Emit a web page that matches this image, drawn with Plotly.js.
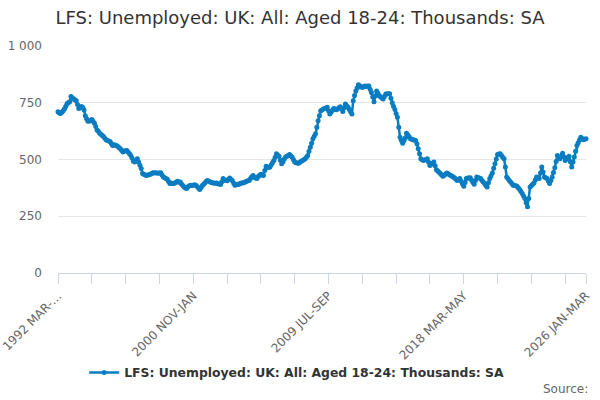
<!DOCTYPE html>
<html>
<head>
<meta charset="utf-8">
<script src="https://cdn.plot.ly/plotly-3.0.1.min.js"></script>
<style>html,body{margin:0;padding:0;background:#fff}#chart{width:600px;height:400px}</style>
</head>
<body>
<div id="chart"></div>
<script>
// Series: LFS: Unemployed: UK: All: Aged 18-24: Thousands: SA (rolling 3-month), 1992 MAR-MAY .. 2026 JAN-MAR
var startYear = 1992;
var startMonth = 2; // MAR (0-based)
var monthNames = ['JAN','FEB','MAR','APR','MAY','JUN','JUL','AUG','SEP','OCT','NOV','DEC'];

var values = [
710,705,703,708,715,724,735,747,750,754,
778,772,766,763,759,742,725,728,733,730,
718,693,680,668,670,671,676,668,660,645,
630,624,616,611,606,601,594,587,584,581,
579,570,562,565,563,562,557,552,547,540,
533,537,539,540,532,525,518,505,492,489,
495,503,489,475,460,438,435,432,430,432,
433,435,438,442,440,442,441,439,441,442,
432,423,420,416,413,403,394,396,393,394,
398,401,404,400,401,392,385,379,375,372,
380,384,387,385,387,389,387,381,374,368,
377,385,391,398,404,408,404,401,399,397,
397,395,397,393,392,390,402,416,410,408,
406,413,419,412,408,396,387,389,391,390,
394,397,396,399,401,404,406,408,416,424,
430,422,418,416,425,431,435,432,430,452,
470,467,465,467,477,487,496,510,525,519,
514,497,481,490,502,511,514,518,522,516,
511,500,489,486,485,484,488,492,496,499,
503,510,518,536,554,572,591,602,613,642,
671,693,715,718,722,725,727,730,715,700,
708,717,725,722,719,723,728,732,722,712,
728,744,737,730,720,710,700,759,782,802,
815,829,825,821,817,820,824,822,824,824,
810,795,775,754,780,802,792,781,776,771,
766,777,788,789,790,790,770,750,735,720,
703,686,642,598,585,572,583,595,616,608,
600,591,589,587,586,584,569,547,525,503,
499,496,498,500,503,488,474,479,484,489,
472,455,449,444,438,432,426,431,436,441,
437,433,430,426,423,418,413,408,412,416,
404,393,382,399,416,418,419,420,410,400,
391,407,423,420,418,416,408,401,394,386,
379,398,416,428,441,461,481,502,522,524,
525,518,510,503,467,423,416,408,401,394,
387,385,384,382,375,368,359,350,339,328,
310,292,328,379,385,391,397,410,423,420,
416,441,467,445,423,420,416,405,394,408,
423,443,464,491,518,510,503,515,528,512,
496,502,508,514,490,467,489,511,536,562,
574,586,598,592,587,589,591
];

// Category labels (rolling quarter names)
var categories = [];
for (var i = 0; i < values.length; i++) {
  var m = startMonth + i;
  var y = startYear + Math.floor(m / 12);
  var a = m % 12;
  categories.push(y + ' ' + monthNames[a] + '-' + monthNames[(a + 2) % 12]);
}

var labelledIdx = [0, 104, 208, 312, values.length - 1];
var tickStep = 26;
var tickVals = [], tickText = [];
for (var k = 0; k < values.length; k += tickStep) {
  tickVals.push(categories[k]);
  tickText.push(labelledIdx.indexOf(k) >= 0 ? (k === 0 ? '1992 MAR-…' : categories[k]) : '');
}
tickVals.push(categories[values.length - 1]);
tickText.push(categories[values.length - 1]);

var yTickVals = [0, 250, 500, 750, 1000];
var yTickText = ['0', '250', '500', '750', '1 000'];
var seriesName = 'LFS: Unemployed: UK: All: Aged 18-24: Thousands: SA';
var blue = '#0a7cc1';

var trace = {
  x: categories,
  y: values,
  type: 'scatter',
  mode: 'lines+markers',
  name: seriesName,
  line: {color: blue, width: 2.5},
  marker: {color: blue, size: 5},
  cliponaxis: false,
  hoverinfo: 'skip'
};

var layout = {
  width: 600, height: 400,
  margin: {l: 58, r: 14, t: 46, b: 127},
  paper_bgcolor: '#fff', plot_bgcolor: '#fff',
  font: {family: 'DejaVu Sans, Verdana, sans-serif', color: '#666'},
  title: {text: 'LFS: Unemployed: UK: All: Aged 18-24: Thousands: SA',
          x: 0.5, xanchor: 'center', y: 0.955, yanchor: 'middle',
          font: {size: 18, color: '#333', family: 'DejaVu Sans, Verdana, sans-serif'}},
  xaxis: {
    type: 'category',
    range: [0, values.length - 1],
    tickmode: 'array', tickvals: tickVals, ticktext: tickText,
    tickangle: -45,
    ticks: 'outside', ticklen: 10, tickcolor: '#ccd6eb', tickwidth: 1,
    showline: true, linecolor: '#ccd6eb', linewidth: 1,
    showgrid: false, zeroline: false,
    tickfont: {size: 12, color: '#666'},
    fixedrange: true
  },
  yaxis: {
    range: [0, 1000],
    tickmode: 'array', tickvals: yTickVals, ticktext: yTickText,
    showgrid: true, gridcolor: '#e6e6e6', gridwidth: 1,
    zeroline: false, showline: false, ticks: '',
    ticklabelstandoff: 15,
    tickfont: {size: 12, color: '#666'},
    fixedrange: true
  },
  showlegend: true,
  legend: {orientation: 'h', x: 0.452, xanchor: 'center', y: -0.44, yanchor: 'middle',
           font: {size: 12.4, color: '#333', weight: 'bold', family: 'DejaVu Sans, Verdana, sans-serif'},
           bgcolor: 'rgba(0,0,0,0)'},
  annotations: [{text: 'Source:', xref: 'paper', yref: 'paper', x: 1.007, y: -0.513,
                 xanchor: 'right', yanchor: 'middle', showarrow: false,
                 font: {size: 12, color: '#666'}}]
};

Plotly.newPlot('chart', [trace], layout, {displayModeBar: false, staticPlot: true});
</script>
</body>
</html>
